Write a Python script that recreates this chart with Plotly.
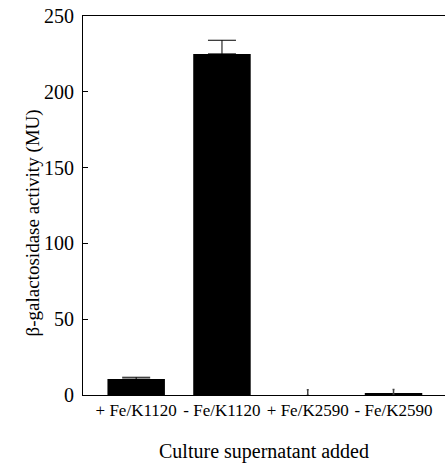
import plotly.graph_objects as go

categories = ["+ Fe/K1120", "- Fe/K1120", "+ Fe/K2590", "- Fe/K2590"]
values = [10.5, 225, 0.0, 0.7]
errors = [1.2, 9, 3.5, 3.0]
y_ticks = [0, 50, 100, 150, 200, 250]

font = "Liberation Serif"
idx = list(range(len(categories)))

fig = go.Figure()
fig.add_trace(go.Bar(
    x=idx, y=values,
    marker=dict(color="black", line=dict(width=0)),
    width=0.67,
))
# capped error bars for the two visible bars
fig.add_trace(go.Scatter(
    x=idx[:2], y=values[:2], mode="markers",
    marker=dict(size=1, color="rgba(0,0,0,0)"),
    error_y=dict(type="data", array=errors[:2], symmetric=False, arrayminus=[0, 0],
                 color="black", thickness=1, width=14),
))
# nearly cap-less error ticks for the near-zero bars
fig.add_trace(go.Scatter(
    x=idx[2:], y=values[2:], mode="markers",
    marker=dict(size=1, color="rgba(0,0,0,0)"),
    error_y=dict(type="data", array=errors[2:], symmetric=False, arrayminus=[0, 0],
                 color="#444", thickness=1.5, width=1),
))

fig.update_layout(
    width=445, height=463,
    margin=dict(l=83, r=0, t=16, b=68),
    paper_bgcolor="white", plot_bgcolor="white",
    showlegend=False,
    font=dict(family=font, color="black", size=15),
    xaxis=dict(
        range=[-0.62, 3.6], automargin=False,
        tickmode="array", tickvals=idx, ticktext=categories,
        showline=True, linecolor="black", linewidth=1, mirror=True,
        ticks="", showgrid=False, zeroline=False,
        tickfont=dict(family=font, size=17),
        title=dict(text="Culture supernatant added", font=dict(family=font, size=20), standoff=25),
    ),
    yaxis=dict(
        range=[0, 250], automargin=False,
        tickmode="array", tickvals=y_ticks,
        showline=True, linecolor="black", linewidth=1,
        ticks="inside", ticklen=5, tickcolor="black",
        showgrid=False, zeroline=False,
        tickfont=dict(family=font, size=20),
        ticklabelstandoff=4,
    ),
    annotations=[dict(
        text="β-galactosidase activity (MU)", textangle=-90,
        xref="paper", yref="paper", x=-83/445 + 22/445, y=1 - (223 - 16) / 379,
        xanchor="center", yanchor="middle", showarrow=False,
        font=dict(family=font, size=19, color="black"),
    )],
)

fig.write_html("out.html")
